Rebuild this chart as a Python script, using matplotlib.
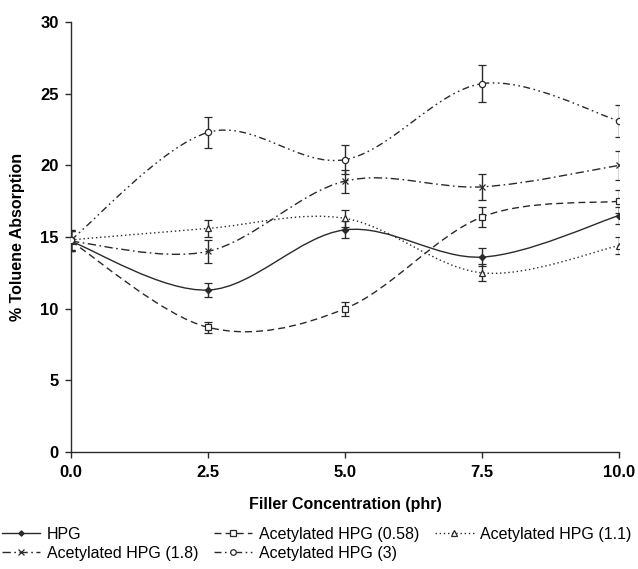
import matplotlib
matplotlib.use('Agg')
import matplotlib.pyplot as plt
from matplotlib.path import Path
from matplotlib.patches import PathPatch
from matplotlib.lines import Line2D

# filler concentration (phr)
conc = [0, 2.5, 5, 7.5, 10]

hpg = [14.7, 11.3, 15.5, 13.6, 16.5]
hpg_err = [0.7, 0.5, 0.6, 0.6, 0.6]
ac058 = [14.7, 8.7, 10.0, 16.4, 17.5]
ac058_err = [0.7, 0.4, 0.5, 0.7, 0.8]
ac11 = [14.8, 15.6, 16.3, 12.5, 14.4]
ac11_err = [0.7, 0.6, 0.6, 0.6, 0.6]
ac18 = [14.7, 14.0, 18.9, 18.5, 20.0]
ac18_err = [0.7, 0.8, 0.8, 0.9, 1.0]
ac3 = [14.8, 22.3, 20.4, 25.7, 23.1]
ac3_err = [0.7, 1.1, 1.0, 1.3, 1.1]

labels = ['HPG', 'Acetylated HPG (0.58)', 'Acetylated HPG (1.1)',
          'Acetylated HPG (1.8)', 'Acetylated HPG (3)']

plt.rcParams['font.family'] = ['Liberation Sans', 'DejaVu Sans']

col = '#2a2a2a'


def smooth_path(xs, ys):
    # excel-like smoothed line: bezier segments through the data points
    pts = list(zip(xs, ys))
    verts = [pts[0]]
    codes = [Path.MOVETO]
    n = len(pts)
    for i in range(n - 1):
        p0 = pts[i - 1] if i > 0 else pts[i]
        p1 = pts[i]
        p2 = pts[i + 1]
        p3 = pts[i + 2] if i + 2 < n else pts[i + 1]
        c1 = (p1[0] + (p2[0] - p0[0]) / 6, p1[1] + (p2[1] - p0[1]) / 6)
        c2 = (p2[0] - (p3[0] - p1[0]) / 6, p2[1] - (p3[1] - p1[1]) / 6)
        verts += [c1, c2, p2]
        codes += [Path.CURVE4] * 3
    return Path(verts, codes)


series = [
    (hpg, hpg_err, '-', 'D', col, 3.2),
    (ac058, ac058_err, (0, (5, 3)), 's', 'white', 4.5),
    (ac11, ac11_err, (0, (1, 2)), '^', 'white', 5),
    (ac18, ac18_err, (0, (6, 2.5, 1.2, 2.5)), 'x', col, 4.5),
    (ac3, ac3_err, (0, (5, 2.5, 1.2, 2.5, 1.2, 2.5)), 'o', 'white', 4.5),
]

fig = plt.figure(figsize=(6.38, 5.69), dpi=100)
ax = fig.add_axes([0.1113, 0.2056, 0.859, 0.7557])

handles = []
for (vals, err, ls, mk, fc, ms), lab in zip(series, labels):
    patch = PathPatch(smooth_path(conc, vals), facecolor='none', edgecolor=col,
                      linewidth=1.0, linestyle=ls)
    ax.add_patch(patch)
    ax.errorbar(conc, vals, yerr=err, fmt=mk, color=col, mfc=fc, mec=col,
                ms=ms, mew=0.9, ecolor=col, elinewidth=1.0, capsize=3,
                capthick=1.0, zorder=3)
    handles.append(Line2D([], [], color=col, linestyle=ls, linewidth=1.0,
                          marker=mk, mfc=fc, mec=col, ms=ms - 0.5, mew=0.9))

ax.set_xlim(0, 10)
ax.set_ylim(0, 30)
ax.set_xticks(conc)
ax.set_xticklabels(['%.1f' % c for c in conc])
ax.set_yticks(range(0, 31, 5))
ax.spines['top'].set_visible(False)
ax.spines['right'].set_visible(False)
for s in ['left', 'bottom']:
    ax.spines[s].set_color(col)
    ax.spines[s].set_linewidth(1.0)
ax.tick_params(direction='out', length=4, width=1.0, color=col,
               labelsize=12, pad=5)
for t in ax.get_xticklabels() + ax.get_yticklabels():
    t.set_fontweight('bold')

ax.set_xlabel('Filler Concentration (phr)', fontsize=11.5, fontweight='bold')
ax.set_ylabel('% Toluene Absorption', fontsize=11.5, fontweight='bold')
ax.xaxis.set_label_coords(0.5, -0.104)
ax.yaxis.set_label_coords(-0.084, 0.5)

# column-major fill: order so rows read HPG, 0.58, 1.1 / 1.8, 3
order = [0, 3, 1, 4, 2]
fig.legend([handles[i] for i in order], [labels[i] for i in order],
           loc='upper left', bbox_to_anchor=(0.003, 0.074), ncol=3,
           frameon=False, fontsize=11.5, handlelength=2.4, handletextpad=0.4,
           columnspacing=1.0, labelspacing=0.25, borderpad=0, borderaxespad=0)

fig.savefig('out.png', dpi=100)
